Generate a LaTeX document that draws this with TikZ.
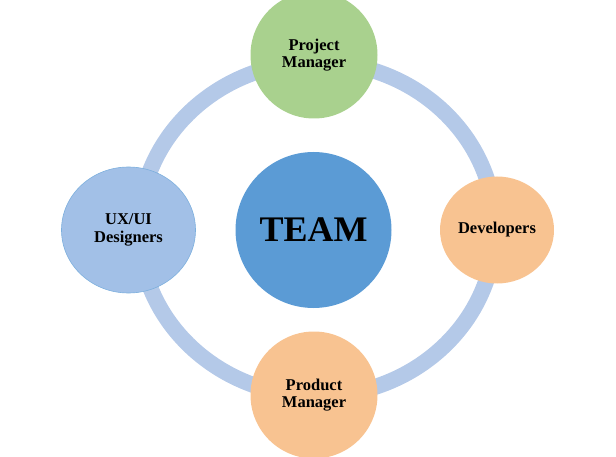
\documentclass[tikz,border=0pt]{standalone}
\usepackage{fontspec}
\usetikzlibrary{shapes.geometric}
\setmainfont{Liberation Serif}
\definecolor{ringc}{HTML}{B4C9E8}
\definecolor{teamc}{HTML}{5B9BD5}
\definecolor{uxc}{HTML}{A2C0E7}
\definecolor{pmc}{HTML}{A9D18E}
\definecolor{orc}{HTML}{F8C391}
\tikzset{
  role/.style={circle, inner sep=0pt, align=center, font=\fontsize{16.5}{17.5}\selectfont\bfseries, text=black},
}
\begin{document}
\begin{tikzpicture}[x=1pt,y=-1pt]
\useasboundingbox (0,0) rectangle (616,457);
\begin{scope}
\clip (0,0) rectangle (616,457);
\draw[ringc, line width=16pt] (317,229) ellipse [x radius=178, y radius=167];
\node[role, fill=teamc, minimum size=156pt, font=\fontsize{36}{40}\selectfont\bfseries] (team) at (313.5,230) {TEAM};
\node[role, fill=pmc, minimum size=127pt] (pm) at (314,55) {Project\\Manager};
\node[role, fill=orc, ellipse, minimum width=114pt, minimum height=107pt] (dev) at (497,230) {Developers};
\node[role, fill=orc, minimum size=127pt] (prod) at (314,395) {Product\\Manager};
\node[role, fill=uxc, ellipse, draw=teamc!80, line width=0.6pt, minimum width=134pt, minimum height=126pt] (ux) at (128.5,230) {UX/UI\\Designers};
\end{scope}
\end{tikzpicture}
\end{document}
